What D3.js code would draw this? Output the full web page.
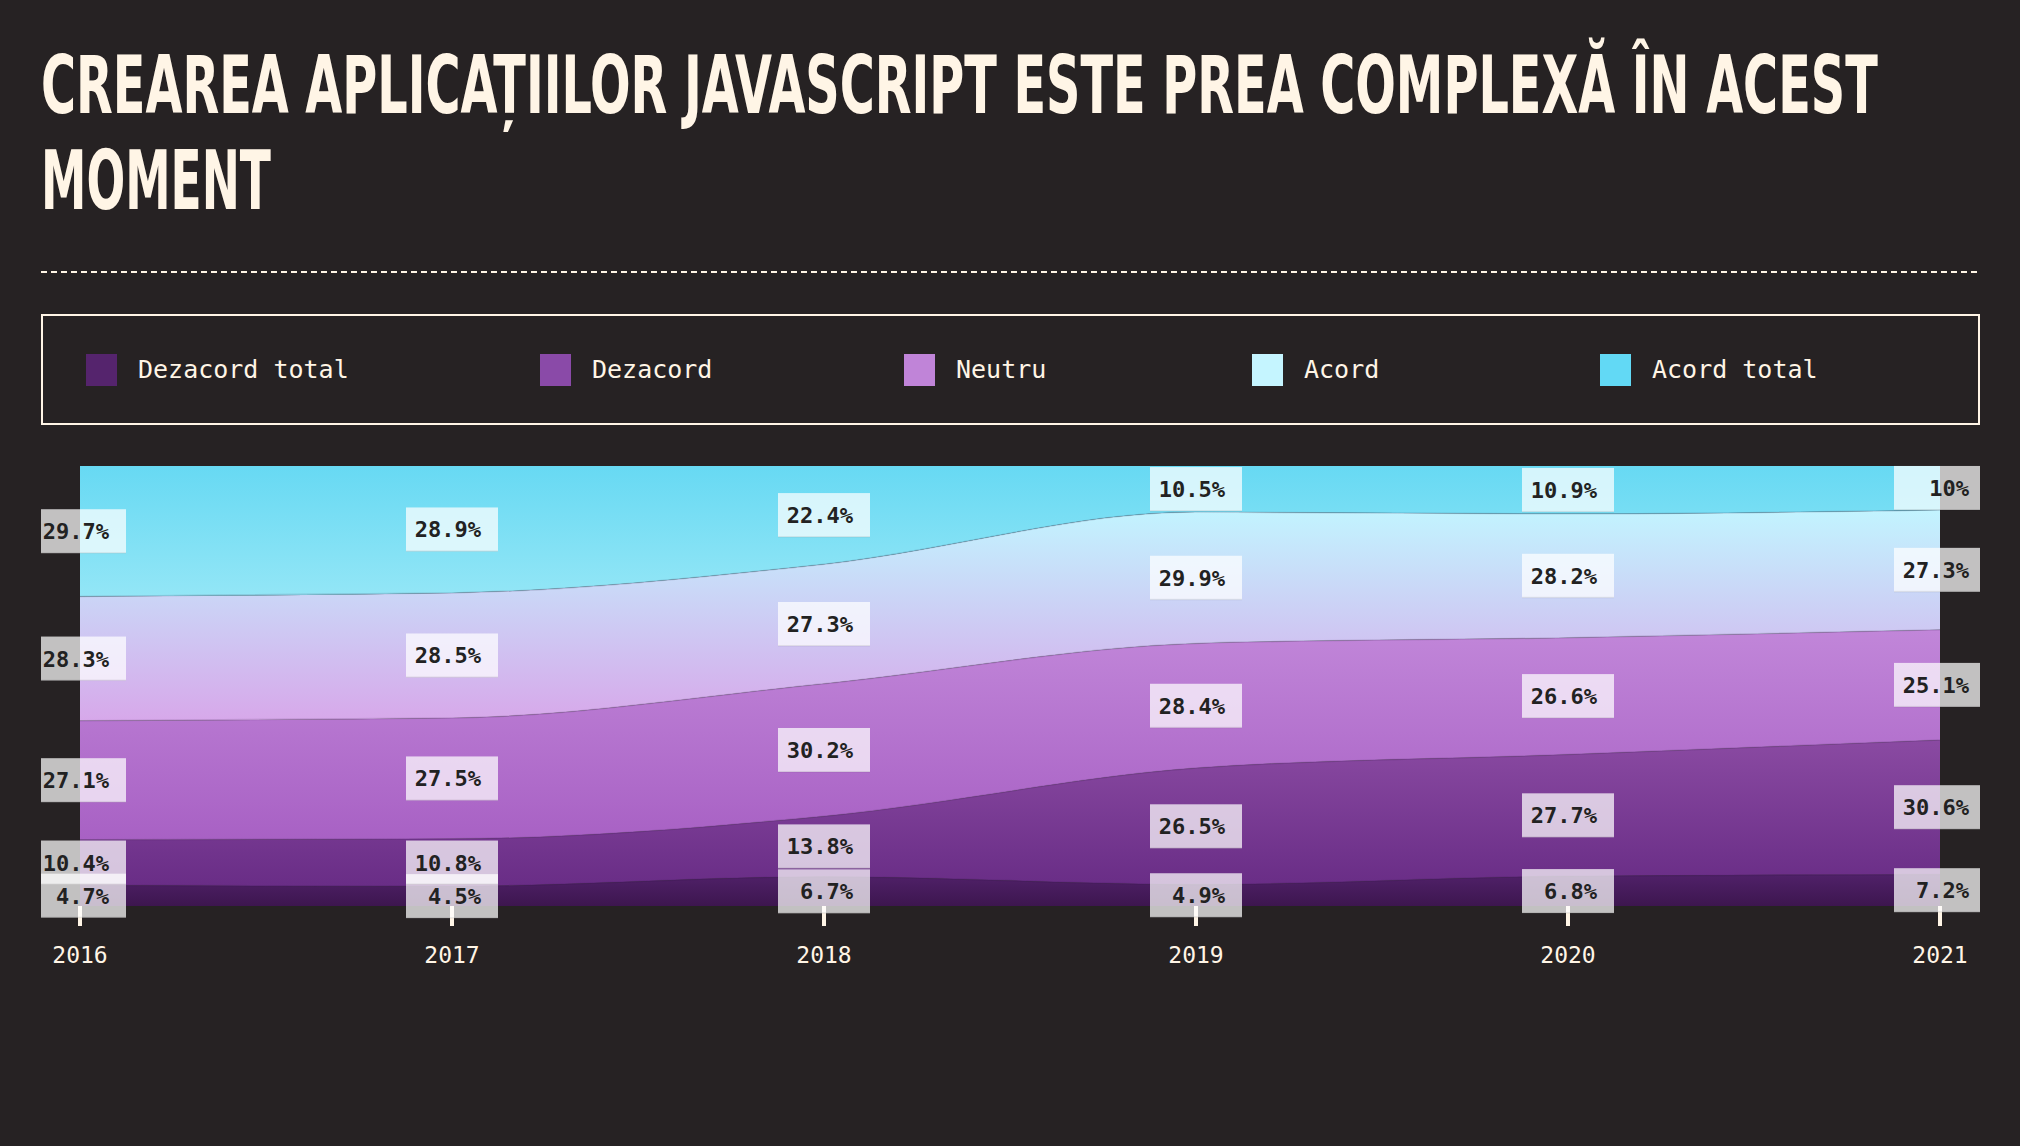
<!DOCTYPE html>
<html>
<head>
<meta charset="utf-8">
<script src="https://cdn.jsdelivr.net/npm/d3@7"></script>
<style>
  html, body { margin: 0; padding: 0; background: #262223; }
  svg { display: block; }
</style>
</head>
<body>
<svg id="chart" width="2020" height="1146"></svg>
<script>
// ---------- DATA ----------
const titleLines = ["CREAREA APLICAȚIILOR JAVASCRIPT ESTE PREA COMPLEXĂ ÎN ACEST", "MOMENT"];
const years = ["2016", "2017", "2018", "2019", "2020", "2021"];
const seriesNames = ["Dezacord total", "Dezacord", "Neutru", "Acord", "Acord total"];
const dezacordTotal = [4.7, 4.5, 6.7, 4.9, 6.8, 7.2];
const dezacord      = [10.4, 10.8, 13.8, 26.5, 27.7, 30.6];
const neutru        = [27.1, 27.5, 30.2, 28.4, 26.6, 25.1];
const acord         = [28.3, 28.5, 27.3, 29.9, 28.2, 27.3];
const acordTotal    = [29.7, 28.9, 22.4, 10.5, 10.9, 10];

// ---------- STYLE ----------
const seriesValues = [dezacordTotal, dezacord, neutru, acord, acordTotal];
const swatchColors = ["#55246d", "#8a4aa8", "#c084d8", "#c5f5ff", "#62d9f5"];
const gradTop    = ["#502169", "#8a4aa2", "#c186d9", "#c2f4ff", "#67d9f3"];
const gradBottom = ["#3d164f", "#692d86", "#a861c4", "#d7a8ea", "#93e6f6"];
const legendX = [86, 540, 904, 1252, 1600];
const cream = "#fff5e6";
const bg = "#262223";

const svg = d3.select("#chart");
const W = 2020, H = 1146;
svg.append("rect").attr("width", W).attr("height", H).attr("fill", bg);

// ---------- TITLE ----------
const titleWidths = [1837, 230];
titleLines.forEach((t, i) => {
  const g = svg.append("g");
  const txt = g.append("text")
    .attr("x", 0).attr("y", 0)
    .attr("fill", cream)
    .attr("font-family", "'DejaVu Sans Condensed', 'DejaVu Sans', sans-serif")
    .attr("font-weight", "bold")
    .attr("font-size", 81)
    .text(t);
  const w = txt.node().getComputedTextLength();
  g.attr("transform", `translate(41,${113 + i * 96}) scale(${titleWidths[i] / w},1)`);
});

// dashed separator
svg.append("line")
  .attr("x1", 41).attr("x2", 1980).attr("y1", 272).attr("y2", 272)
  .attr("stroke", cream).attr("stroke-width", 2).attr("stroke-dasharray", "6,4");

// ---------- LEGEND ----------
svg.append("rect")
  .attr("x", 42).attr("y", 315).attr("width", 1937).attr("height", 109)
  .attr("fill", "none").attr("stroke", cream).attr("stroke-width", 2);
const lg = svg.append("g");
seriesNames.forEach((n, i) => {
  lg.append("rect").attr("x", legendX[i]).attr("y", 354).attr("width", 31).attr("height", 32)
    .attr("fill", swatchColors[i]);
  lg.append("text").attr("x", legendX[i] + 52).attr("y", 378)
    .attr("fill", cream)
    .attr("font-family", "'DejaVu Sans Mono', 'Liberation Mono', monospace")
    .attr("font-size", 25)
    .text(n);
});

// ---------- CHART ----------
const table = years.map((y, i) => {
  const row = { year: y };
  seriesNames.forEach((n, k) => row[n] = seriesValues[k][i]);
  return row;
});
const stack = d3.stack().keys(seriesNames).offset(d3.stackOffsetExpand);
const layers = stack(table);

const x = d3.scalePoint().domain(years).range([80, 1940]);
const y = d3.scaleLinear().domain([0, 1]).range([906, 466]);

const defs = svg.append("defs");
seriesNames.forEach((n, i) => {
  const g = defs.append("linearGradient").attr("id", "g" + i)
    .attr("x1", 0).attr("x2", 0).attr("y1", 0).attr("y2", 1);
  g.append("stop").attr("offset", "0%").attr("stop-color", gradTop[i]);
  g.append("stop").attr("offset", "100%").attr("stop-color", gradBottom[i]);
});
defs.append("clipPath").attr("id", "labelClip")
  .append("rect").attr("x", 41).attr("y", 440).attr("width", 1939).attr("height", 500);

const area = d3.area()
  .x(d => x(d.data.year))
  .y0(d => y(d[0]))
  .y1(d => y(d[1]))
  .curve(d3.curveMonotoneX);

svg.append("g").selectAll("path").data(layers).join("path")
  .attr("d", area)
  .attr("fill", (d, i) => `url(#g${i})`);

// boundary lines
const line = d3.line().x(d => x(d.data.year)).y(d => y(d[1])).curve(d3.curveMonotoneX);
svg.append("g").selectAll("path").data(layers.slice(0, 4)).join("path")
  .attr("d", line).attr("fill", "none")
  .attr("stroke", "rgba(40,20,60,0.15)").attr("stroke-width", 1.5);

// ticks
const ticks = svg.append("g");
years.forEach(yr => {
  ticks.append("rect").attr("x", x(yr) - 2).attr("y", 906).attr("width", 4).attr("height", 20)
    .attr("fill", cream);
  ticks.append("text").attr("x", x(yr)).attr("y", 963)
    .attr("text-anchor", "middle").attr("fill", cream)
    .attr("font-family", "'DejaVu Sans Mono', 'Liberation Mono', monospace")
    .attr("font-size", 23)
    .text(yr);
});

// labels
const lab = svg.append("g").attr("clip-path", "url(#labelClip)");
layers.forEach((layer, k) => {
  layer.forEach((d, i) => {
    const cx = x(d.data.year);
    const cy = (y(d[0]) + y(d[1])) / 2;
    lab.append("rect").attr("x", cx - 46).attr("y", cy - 22).attr("width", 92).attr("height", 44)
      .attr("fill", "rgba(255,255,255,0.72)");
    lab.append("rect").attr("x", cx - 46).attr("y", cy + 21).attr("width", 92).attr("height", 1.5)
      .attr("fill", "rgba(0,0,0,0.08)");
    lab.append("text").attr("x", cx + 29).attr("y", cy + 8)
      .attr("text-anchor", "end").attr("fill", "#222")
      .attr("font-family", "'DejaVu Sans Mono', 'Liberation Mono', monospace")
      .attr("font-weight", "bold")
      .attr("font-size", 22)
      .text(seriesValues[k][i] + "%");
  });
});
</script>
</body>
</html>
